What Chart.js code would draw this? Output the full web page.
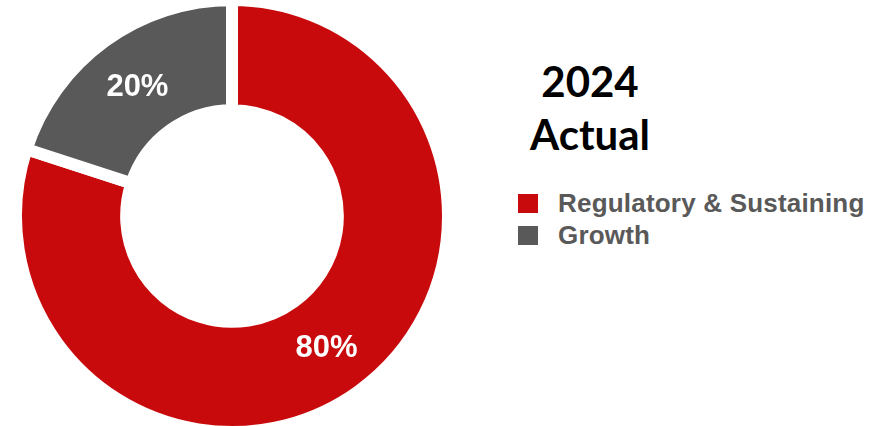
<!DOCTYPE html>
<html>
<head>
<meta charset="utf-8">
<script src="https://cdn.jsdelivr.net/npm/chart.js@4.4.1/dist/chart.umd.min.js"></script>
<style>
  html, body { margin: 0; padding: 0; background: #ffffff; }
  #wrap { position: relative; width: 890px; height: 426px; overflow: hidden; }
  #pie { position: absolute; left: 10px; top: -6px; width: 444px; height: 444px; }
  #title { position: absolute; left: 500px; top: 55px; width: 180px; text-align: center;
           font-family: Lato, "Open Sans", sans-serif; font-weight: 700; font-size: 42px;
           line-height: 53px; color: #000; }
  #legend { position: absolute; left: 518px; top: 187px; font-family: "Liberation Sans", Arial, sans-serif;
            font-weight: 700; font-size: 26px; letter-spacing: 0.2px; color: #595959; }
  .row { display: flex; align-items: center; height: 32px; }
  .sw { width: 20px; height: 19px; margin-right: 20px; }
</style>
</head>
<body>
<div id="wrap">
  <div id="pie"><canvas id="c"></canvas></div>
  <div id="title"></div>
  <div id="legend"></div>
</div>
<script>
// Capital spend split, 2024 actual
const titleLines = ['2024', 'Actual'];
const categories = ['Regulatory & Sustaining', 'Growth'];
const shares = [80, 20];
const colors = ['#C80A0C', '#595959'];

document.getElementById('title').innerHTML = titleLines.join('<br>');
const legend = document.getElementById('legend');
categories.forEach((name, i) => {
  const row = document.createElement('div');
  row.className = 'row';
  const sw = document.createElement('div');
  sw.className = 'sw';
  sw.style.background = colors[i];
  const tx = document.createElement('span');
  tx.textContent = name;
  row.appendChild(sw);
  row.appendChild(tx);
  legend.appendChild(row);
});

// Percent labels centred on each ring segment
const sliceLabels = {
  id: 'sliceLabels',
  afterDatasetsDraw(chart) {
    const ctx = chart.ctx;
    const meta = chart.getDatasetMeta(0);
    ctx.save();
    ctx.fillStyle = '#ffffff';
    ctx.font = 'bold 31px "Liberation Sans", Arial, sans-serif';
    ctx.textAlign = 'center';
    ctx.textBaseline = 'middle';
    meta.data.forEach((arc, i) => {
      const p = arc.tooltipPosition();
      ctx.fillText(shares[i] + '%', p.x, p.y + 2);
    });
    ctx.restore();
  }
};

new Chart(document.getElementById('c'), {
  type: 'doughnut',
  data: {
    labels: categories,
    datasets: [{
      data: shares,
      backgroundColor: colors,
      borderColor: '#ffffff',
      borderWidth: 12,
      borderAlign: 'center',
      borderJoinStyle: 'miter'
    }]
  },
  options: {
    responsive: true,
    maintainAspectRatio: false,
    animation: false,
    cutout: '49%',
    layout: { padding: 0 },
    plugins: {
      legend: { display: false },
      tooltip: { enabled: false },
      title: { display: false }
    }
  },
  plugins: [sliceLabels]
});
</script>
</body>
</html>
